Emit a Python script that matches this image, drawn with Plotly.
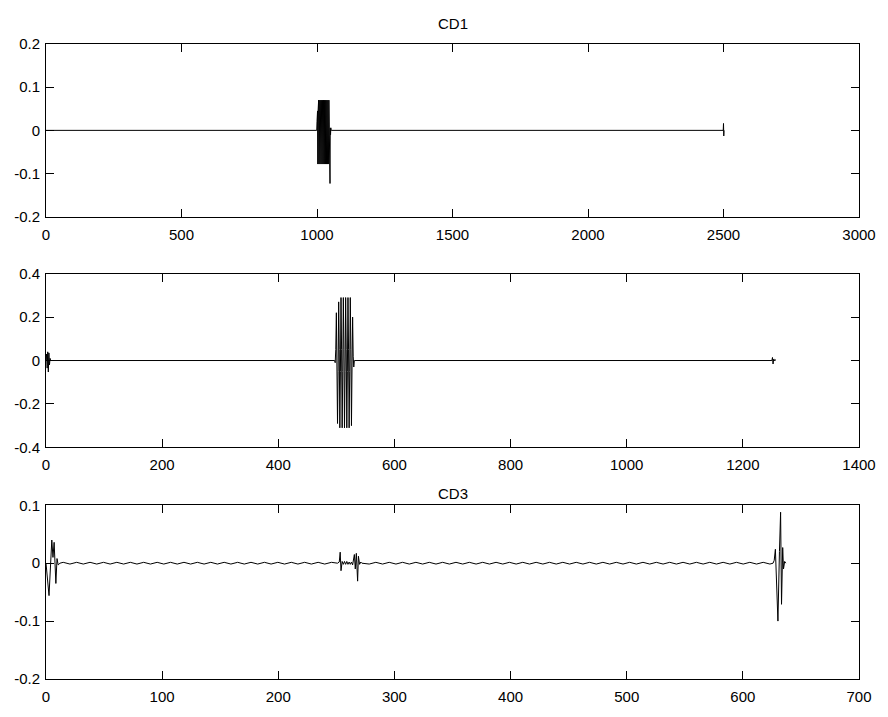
import plotly.graph_objects as go

# ---------------- data ----------------
# CD1 (key samples; flat zero elsewhere)
cd1_x = [0, 999] + list(range(1000, 1053)) + [1053, 2499, 2500, 2501, 2502]
cd1_burst = [0.02, -0.05, 0.045, -0.078, 0.045, -0.078, 0.07, -0.078, 0.07, -0.078,
             0.07, -0.078, 0.07, -0.078, 0.07, -0.078, 0.07, -0.078, 0.07, -0.078,
             0.07, -0.078, 0.07, -0.078, 0.07, -0.078, 0.07, -0.078, 0.07, -0.078,
             0.07, -0.078, 0.07, -0.078, 0.07, -0.078, 0.07, -0.078, 0.07, -0.078,
             0.07, -0.078, 0.07, -0.078, 0.07, -0.078, 0.06, -0.05, -0.123, 0.005,
             -0.01, 0.006, 0.0]
cd1_y = [0.0, 0.0] + cd1_burst + [0.0, 0.0, 0.016, -0.013, 0.0]

# CD2
cd2_x = [0, 1, 2, 3, 4, 5, 6, 7, 8, 497,
         498, 499, 500, 501, 502, 503, 504, 505, 506, 507, 508, 509, 510, 511, 512,
         513, 514, 515, 516, 517, 518, 519, 520, 521, 522, 523, 524, 525, 526, 527,
         528, 529, 530, 531, 1250, 1251, 1252, 1253, 1254, 1255, 1256, 1257]
cd2_y = [0.0, 0.03, -0.035, 0.04, -0.053, 0.035, -0.02, 0.01, 0.0, 0.0,
         -0.01, 0.05, 0.22, 0.05, -0.29, -0.05, 0.27, 0.05, -0.31, -0.05,
         0.29, 0.05, -0.31, -0.05, 0.29, 0.05, -0.31, -0.05, 0.29, 0.05,
         -0.31, -0.05, 0.29, 0.05, -0.31, -0.05, 0.29, 0.05, -0.3, -0.03,
         0.2, 0.02, -0.03, 0.0, 0.0, 0.014, -0.016, 0.006, -0.002, 0.005, 0.0, 0.0]

# CD3
cd3_x = [0, 1, 2.6, 4, 5, 6, 7, 8.5, 9.5, 10.5, 12,
         14.8, 20.6, 26.4, 32.1, 37.9, 43.7, 49.5, 55.2, 61.0, 66.8, 72.6, 78.3,
         84.1, 89.9, 95.7, 101.4, 107.2, 113.0, 118.8, 124.5, 130.3, 136.1, 141.9,
         147.6, 153.4, 159.2, 165.0, 170.7, 176.5, 182.3, 188.1, 193.8, 199.6,
         205.4, 211.2, 216.9, 222.7, 228.5, 234.3, 240.0, 245.8,
         251, 252.5, 253.3, 254, 255, 256, 257, 258, 259, 260, 261, 262, 263, 264,
         265.5, 266.3, 267.2, 268.3, 269, 270, 271, 272,
         278.3, 284.0, 289.8, 295.5, 301.3, 307.0, 312.8, 318.5, 324.3, 330.0,
         335.8, 341.5, 347.3, 353.0, 358.8, 364.5, 370.3, 376.0, 381.8, 387.5,
         393.3, 399.0, 404.8, 410.5, 416.3, 422.0, 427.8, 433.5, 439.3, 445.0,
         450.8, 456.5, 462.3, 468.0, 473.8, 479.5, 485.3, 491.0, 496.8, 502.5,
         508.3, 514.0, 519.8, 525.5, 531.3, 537.0, 542.8, 548.5, 554.3, 560.0,
         565.8, 571.5, 577.3, 583.0, 588.8, 594.5, 600.3, 606.0, 611.8, 617.5,
         623.3, 626, 627, 628, 629, 630.2, 631.5, 632.5, 633.3, 634.3, 635, 636, 637]
cd3_y = [0.0, -0.02, -0.056, 0.0, 0.04, 0.01, 0.036, -0.035, 0.008, -0.003, 0.0,
         0.0015, -0.0015, 0.0015, -0.0015, 0.0015, -0.0015, 0.0015, -0.0015, 0.0015, -0.0015,
         0.0015, -0.0015, 0.0015, -0.0015, 0.0015, -0.0015, 0.0015, -0.0015, 0.0015, -0.0015,
         0.0015, -0.0015, 0.0015, -0.0015, 0.0015, -0.0015, 0.0015, -0.0015, 0.0015, -0.0015,
         0.0015, -0.0015, 0.0015, -0.0015, 0.0015, -0.0015, 0.0015, -0.0015, 0.0015, -0.0015,
         0.0015,
         0.0, 0.002, 0.019, -0.013, 0.003, -0.002, 0.003, -0.002, 0.003, -0.002,
         0.002, -0.002, 0.002, -0.003, 0.015, -0.01, 0.017, -0.031, 0.012, -0.002,
         0.002, 0.0,
         -0.0015, 0.0015, -0.0015, 0.0015, -0.0015, 0.0015, -0.0015, 0.0015, -0.0015, 0.0015,
         -0.0015, 0.0015, -0.0015, 0.0015, -0.0015, 0.0015, -0.0015, 0.0015, -0.0015, 0.0015,
         -0.0015, 0.0015, -0.0015, 0.0015, -0.0015, 0.0015, -0.0015, 0.0015, -0.0015, 0.0015,
         -0.0015, 0.0015, -0.0015, 0.0015, -0.0015, 0.0015, -0.0015, 0.0015, -0.0015, 0.0015,
         -0.0015, 0.0015, -0.0015, 0.0015, -0.0015, 0.0015, -0.0015, 0.0015, -0.0015, 0.0015,
         -0.0015, 0.0015, -0.0015, 0.0015, -0.0015, 0.0015, -0.0015, 0.0015, -0.0015, 0.0015,
         -0.0015, 0.0, 0.005, 0.024, -0.02, -0.1, 0.02, 0.088, -0.071, 0.027, -0.01,
         0.003, 0.0]

# tick values / labels
cd1_xticks = [0, 500, 1000, 1500, 2000, 2500, 3000]
cd1_yticks = [-0.2, -0.1, 0, 0.1, 0.2]
cd1_ylabels = ["-0.2", "-0.1", "0", "0.1", "0.2"]
cd2_xticks = [0, 200, 400, 600, 800, 1000, 1200, 1400]
cd2_yticks = [-0.4, -0.2, 0, 0.2, 0.4]
cd2_ylabels = ["-0.4", "-0.2", "0", "0.2", "0.4"]
cd3_xticks = [0, 100, 200, 300, 400, 500, 600, 700]
cd3_yticks = [-0.2, -0.1, 0, 0.1]
cd3_ylabels = ["-0.2", "-0.1", "0", "0.1"]
titles = ["CD1", "CD3"]

# ---------------- figure ----------------
W, H = 888, 717
ml, mr, mt, mb = 46, 23, 44, 26
ph = H - mt - mb

def dom(top_px, bot_px):
    return [(H - mb - bot_px) / ph, (H - mb - top_px) / ph]

FONT = dict(family="Liberation Sans, Arial, sans-serif", size=15, color="black")

fig = go.Figure()
series = [(cd1_x, cd1_y), (cd2_x, cd2_y), (cd3_x, cd3_y)]
for i, (xs, ys) in enumerate(series):
    sfx = "" if i == 0 else str(i + 1)
    fig.add_trace(go.Scatter(x=xs, y=ys, mode="lines",
                             line=dict(color="black", width=1),
                             xaxis="x" + sfx, yaxis="y" + sfx,
                             showlegend=False, hoverinfo="skip"))

axcommon = dict(showline=True, linecolor="black", linewidth=1, mirror="ticks",
                ticks="inside", ticklen=8, tickcolor="black", tickwidth=1,
                showgrid=False, zeroline=False, tickfont=FONT)

layout = dict(width=W, height=H, margin=dict(l=ml, r=mr, t=mt, b=mb),
              paper_bgcolor="white", plot_bgcolor="white", font=FONT)

doms = [dom(44, 220), dom(278, 455), dom(514, 691)]
xr = [[0, 3000], [0, 1400], [0, 700]]
yr = [[-0.2, 0.2], [-0.4, 0.4], [-0.2, 0.1]]
xt = [cd1_xticks, cd2_xticks, cd3_xticks]
yt = [cd1_yticks, cd2_yticks, cd3_yticks]
yl = [cd1_ylabels, cd2_ylabels, cd3_ylabels]
for i in range(3):
    sfx = "" if i == 0 else str(i + 1)
    layout["xaxis" + sfx] = dict(axcommon, domain=[0, 1], range=xr[i],
                                 anchor="y" + sfx, tickvals=xt[i],
                                 ticktext=[str(v) for v in xt[i]],
                                 ticklabelstandoff=4)
    layout["yaxis" + sfx] = dict(axcommon, domain=doms[i], range=yr[i],
                                 anchor="x" + sfx, tickvals=yt[i], ticktext=yl[i],
                                 ticklabelstandoff=2)

fig.update_layout(**layout)

fig.add_annotation(text=titles[0], x=0.5, y=(H - mb - 23) / ph, xref="paper",
                   yref="paper", showarrow=False, font=FONT, yanchor="middle")
fig.add_annotation(text=titles[1], x=0.5, y=(H - mb - 502) / ph, xref="paper",
                   yref="paper", showarrow=False, font=FONT, yanchor="middle")

fig.write_html("out.html")
